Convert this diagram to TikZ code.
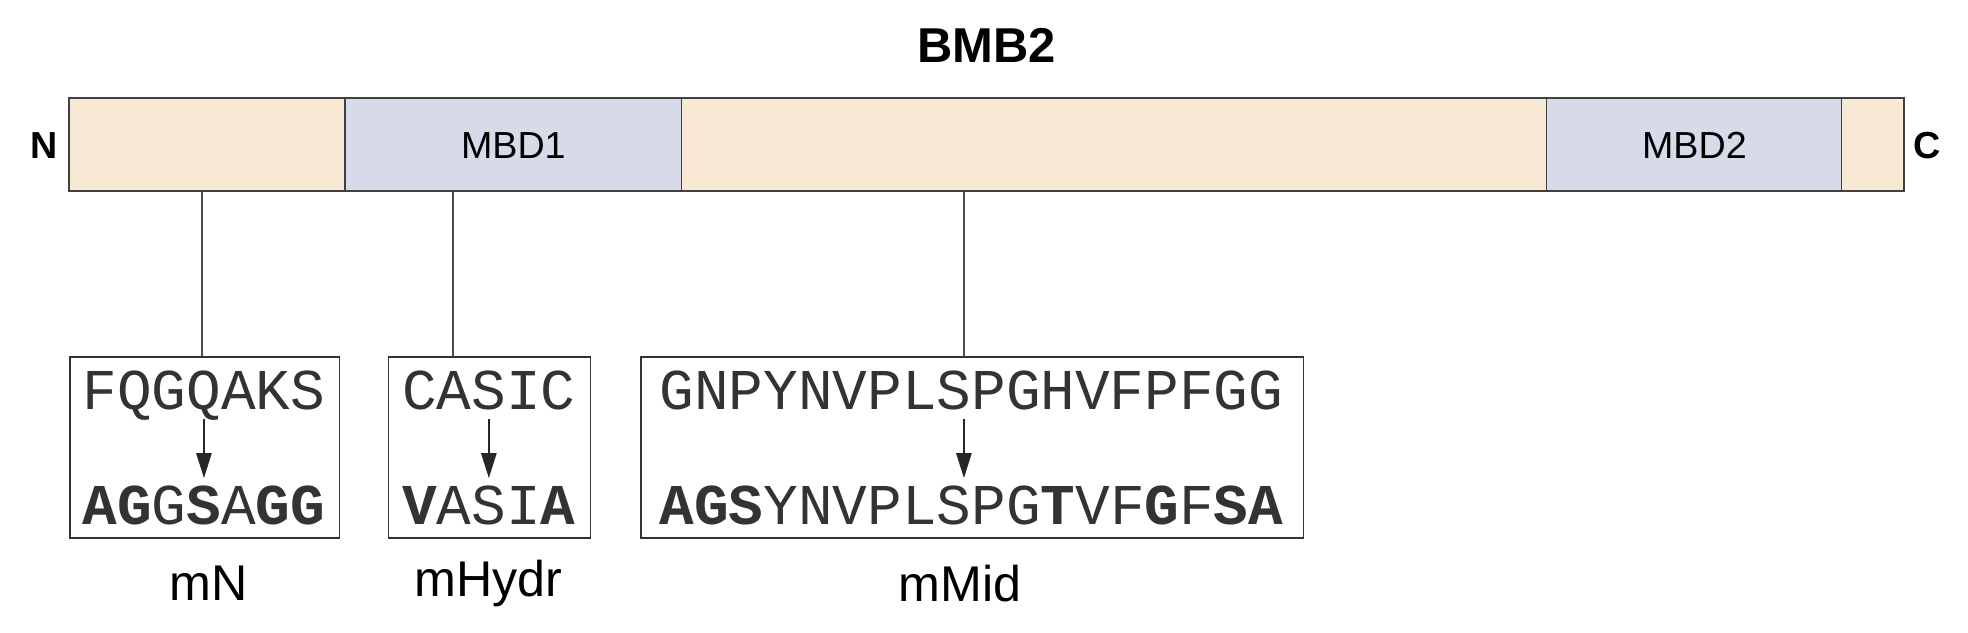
\documentclass[tikz,border=0pt]{standalone}
\usepackage{fontspec}
\setmainfont{Liberation Sans}
\newfontfamily\seqfont{Liberation Mono}
\usetikzlibrary{arrows.meta}
\definecolor{beige}{HTML}{F7E9D3}
\definecolor{mbd}{HTML}{D6DAE9}
\begin{document}
\begin{tikzpicture}[x=1pt,y=-1pt,
 seg/.style={draw=black!75,line width=1.2pt},
 seqbox/.style={draw=black!80,line width=1.2pt,minimum height=144pt,anchor=north west,inner sep=0pt},
 seq/.style={font=\seqfont\fontsize{46}{46}\selectfont,inner sep=0pt,anchor=base,text=black!80},
 lab/.style={font=\fontsize{40}{40}\selectfont,inner sep=0pt},
 conn/.style={draw=black!70,line width=1.2pt},
 arr/.style={draw=black!85,line width=2pt,-{Triangle[length=20pt,width=12pt]}}]
\useasboundingbox (0,0) rectangle (1568,504);
\node[font=\bfseries\fontsize{39}{39}\selectfont] (title) at (786,36) {BMB2};
\path[seg,fill=beige] (55,78) rectangle (275,152);
\path[seg,fill=mbd] (275,78) rectangle (543,152);
\path[seg,fill=beige] (543,78) rectangle (1232,152);
\path[seg,fill=mbd] (1232,78) rectangle (1467,152);
\path[seg,fill=beige] (1467,78) rectangle (1517,152);
\node[font=\fontsize{30}{30}\selectfont] (m1) at (409,116) {MBD1};
\node[font=\fontsize{30}{30}\selectfont] (m2) at (1350,116) {MBD2};
\node[font=\bfseries\fontsize{30}{30}\selectfont] (N) at (35,116) {N};
\node[font=\bfseries\fontsize{30}{30}\selectfont] (C) at (1535,116) {C};
\coordinate (p1) at (161,153); \coordinate (p2) at (361,153); \coordinate (p3) at (768,153);
\node[seqbox,minimum width=215pt] (b1) at (55,284) {};
\node[seqbox,minimum width=161pt] (b2) at (309,284) {};
\node[seqbox,minimum width=528pt] (b3) at (510,284) {};
\draw[conn] (p1) -- (p1 |- b1.north);
\draw[conn] (p2) -- (p2 |- b2.north);
\draw[conn] (p3) -- (p3 |- b3.north);
\node[seq] (t1) at (162.5,326) {FQGQAKS};
\node[seq] (u1) at (162.5,418) {\textbf{AG}G\textbf{S}A\textbf{GG}};
\node[seq] (t2) at (389.5,326) {CASIC};
\node[seq] (u2) at (389.5,418) {\textbf{V}ASI\textbf{A}};
\node[seq] (t3) at (774,326) {GNPYNVPLSPGHVFPFGG};
\node[seq] (u3) at (774,418) {\textbf{AGS}YNVPLSPG\textbf{T}VF\textbf{G}F\textbf{SA}};
\coordinate (a1) at (162.5,334); \coordinate (c1) at (162.5,381);
\coordinate (a2) at (389.5,334); \coordinate (c2) at (389.5,381);
\coordinate (a3) at (768,334); \coordinate (c3) at (768,381);
\draw[arr] (a1) -- (c1); \draw[arr] (a2) -- (c2); \draw[arr] (a3) -- (c3);
\node[lab] (l1) at (166,465) {mN};
\node[lab] (l2) at (389,465) {mHydr};
\node[lab] (l3) at (765,465) {mMid};
\end{tikzpicture}
\end{document}
